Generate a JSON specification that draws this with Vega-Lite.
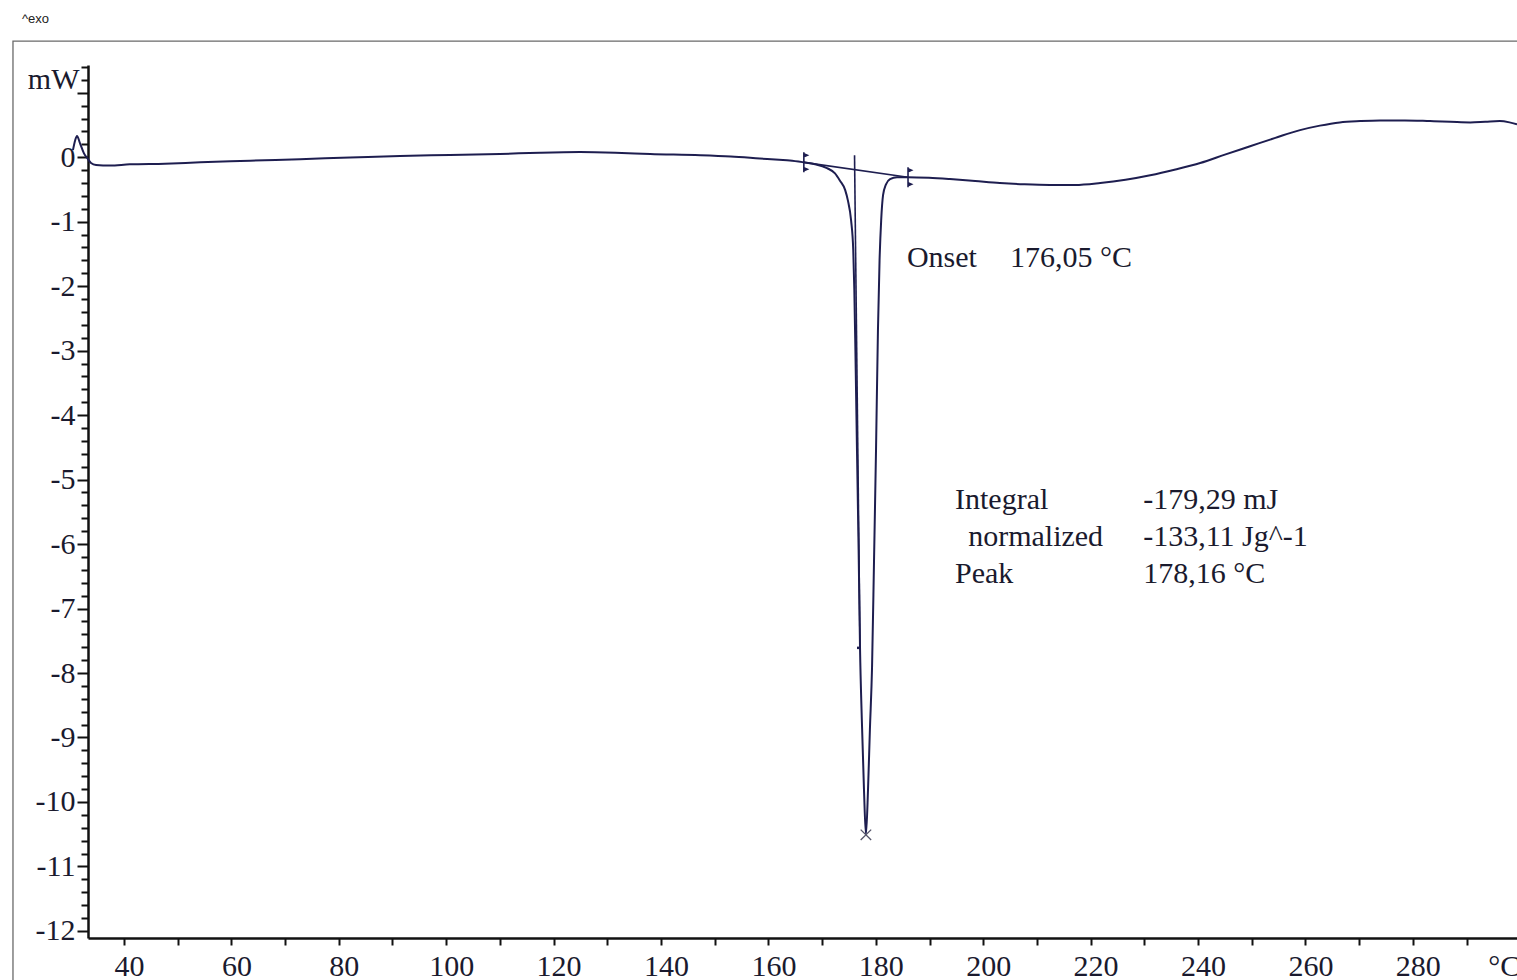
{
  "$schema": "https://vega.github.io/schema/vega-lite/v6.json",
  "width": 1429,
  "height": 873,
  "autosize": {"type": "none"},
  "padding": {"left": 88, "top": 65, "right": 0, "bottom": 42},
  "background": "white",
  "config": {"view": {"stroke": null}},
  "datasets": {
    "curve": [
      {"T": 30.5, "mW": 0.11}, {"T": 30.9, "mW": 0.26}, {"T": 31.25, "mW": 0.33}, {"T": 31.8, "mW": 0.22},
      {"T": 32.55, "mW": 0.06}, {"T": 33.3, "mW": -0.03}, {"T": 33.86, "mW": -0.09}, {"T": 34.8, "mW": -0.12},
      {"T": 37.4, "mW": -0.13}, {"T": 41.1, "mW": -0.11}, {"T": 47.6, "mW": -0.1}, {"T": 54.2, "mW": -0.08},
      {"T": 63.5, "mW": -0.055}, {"T": 72.8, "mW": -0.03}, {"T": 82.1, "mW": -0.005}, {"T": 91.4, "mW": 0.02},
      {"T": 100.7, "mW": 0.035}, {"T": 110.0, "mW": 0.05}, {"T": 117.5, "mW": 0.07}, {"T": 124.9, "mW": 0.08},
      {"T": 131.5, "mW": 0.07}, {"T": 138.0, "mW": 0.05}, {"T": 147.3, "mW": 0.03}, {"T": 153.0, "mW": 0.01},
      {"T": 158.4, "mW": -0.02}, {"T": 162.0, "mW": -0.04}, {"T": 164.0, "mW": -0.05}, {"T": 166.6, "mW": -0.08},
      {"T": 168.7, "mW": -0.11}, {"T": 170.9, "mW": -0.17}, {"T": 172.4, "mW": -0.25}, {"T": 173.3, "mW": -0.36},
      {"T": 174.3, "mW": -0.51}, {"T": 174.8, "mW": -0.67}, {"T": 175.4, "mW": -0.98}, {"T": 175.8, "mW": -1.44},
      {"T": 176.0, "mW": -2.06}, {"T": 176.2, "mW": -2.99}, {"T": 176.5, "mW": -4.57}, {"T": 176.8, "mW": -6.09},
      {"T": 177.06, "mW": -7.61}, {"T": 177.4, "mW": -8.73}, {"T": 177.8, "mW": -9.81}, {"T": 178.16, "mW": -10.51},
      {"T": 178.55, "mW": -9.81}, {"T": 178.9, "mW": -8.88}, {"T": 179.3, "mW": -7.91}, {"T": 179.67, "mW": -6.25},
      {"T": 180.04, "mW": -4.54}, {"T": 180.4, "mW": -2.68}, {"T": 180.7, "mW": -1.6}, {"T": 181.0, "mW": -0.98},
      {"T": 181.35, "mW": -0.59}, {"T": 181.9, "mW": -0.42}, {"T": 182.65, "mW": -0.34}, {"T": 183.95, "mW": -0.31},
      {"T": 186.0, "mW": -0.31}, {"T": 189.9, "mW": -0.32}, {"T": 193.8, "mW": -0.34}, {"T": 198.5, "mW": -0.37},
      {"T": 203.1, "mW": -0.4}, {"T": 207.7, "mW": -0.42}, {"T": 212.4, "mW": -0.43}, {"T": 217.1, "mW": -0.43},
      {"T": 221.8, "mW": -0.4}, {"T": 226.5, "mW": -0.35}, {"T": 231.1, "mW": -0.28}, {"T": 235.8, "mW": -0.19},
      {"T": 240.4, "mW": -0.09}, {"T": 245.0, "mW": 0.04}, {"T": 249.7, "mW": 0.17}, {"T": 254.4, "mW": 0.3},
      {"T": 259.0, "mW": 0.42}, {"T": 262.7, "mW": 0.49}, {"T": 266.4, "mW": 0.54}, {"T": 270.2, "mW": 0.56},
      {"T": 273.9, "mW": 0.57}, {"T": 278.5, "mW": 0.57}, {"T": 283.2, "mW": 0.56}, {"T": 287.0, "mW": 0.55},
      {"T": 290.7, "mW": 0.54}, {"T": 293.5, "mW": 0.55}, {"T": 296.2, "mW": 0.56}, {"T": 298.0, "mW": 0.54},
      {"T": 299.4, "mW": 0.51}
    ],
    "baseline": [{"T": 166.6, "mW": -0.08}, {"T": 186.0, "mW": -0.31}],
    "tangent": [{"T": 176.04, "mW": 0.03}, {"T": 177.06, "mW": -7.61}],
    "limits": [{"T": 166.6, "mW": -0.08}, {"T": 186.0, "mW": -0.31}],
    "peak": [{"T": 178.16, "mW": -10.51}],
    "inflection": [{"T": 177.06, "mW": -7.61}],
    "frame": [{"T": 19.33, "T2": 330, "mW": 1.8, "mW2": -14}],
    "exo": [{"T": 21.0, "mW": 2.14, "text": "^exo"}],
    "notes": [
      {"T": 185.8, "mW": -1.57, "text": "Onset"},
      {"T": 205.0, "mW": -1.57, "text": "176,05 °C"},
      {"T": 194.75, "mW": -5.32, "text": "Integral"},
      {"T": 229.8, "mW": -5.32, "text": "-179,29 mJ"},
      {"T": 197.2, "mW": -5.89, "text": "normalized"},
      {"T": 229.8, "mW": -5.89, "text": "-133,11 Jg^-1"},
      {"T": 194.75, "mW": -6.47, "text": "Peak"},
      {"T": 229.8, "mW": -6.47, "text": "178,16 °C"}
    ]
  },
  "encoding": {
    "x": {
      "field": "T", "type": "quantitative",
      "scale": {"domain": [33.3, 299.4], "nice": false, "zero": false},
      "axis": {
        "title": null, "grid": false,
        "values": [40, 50, 60, 70, 80, 90, 100, 110, 120, 130, 140, 150, 160, 170, 180, 190, 200, 210, 220, 230, 240, 250, 260, 270, 280, 290, 296],
        "labelExpr": "datum.value > 295 ? '°C' : (datum.value % 20 == 0 ? datum.label : '')",
        "labelFont": "Liberation Serif", "labelFontSize": 30, "labelColor": "#1a1a2e",
        "labelPadding": 6, "labelOffset": 5, "labelFlush": false, "labelOverlap": false, "labelBound": false,
        "tickSize": 7, "tickWidth": 2, "tickColor": "#111111",
        "tickOpacity": {"condition": {"test": "datum.value > 295", "value": 0}, "value": 1},
        "domainColor": "#111111", "domainWidth": 2.5
      }
    },
    "y": {
      "field": "mW", "type": "quantitative",
      "scale": {"domain": [-12.11, 1.43], "nice": false, "zero": false},
      "axis": {
        "title": null, "grid": false,
        "values": [-12, -11.8, -11.6, -11.4, -11.2, -11, -10.8, -10.6, -10.4, -10.2, -10, -9.8, -9.6, -9.4, -9.2, -9, -8.8, -8.6, -8.4, -8.2, -8, -7.8, -7.6, -7.4, -7.2, -7, -6.8, -6.6, -6.4, -6.2, -6, -5.8, -5.6, -5.4, -5.2, -5, -4.8, -4.6, -4.4, -4.2, -4, -3.8, -3.6, -3.4, -3.2, -3, -2.8, -2.6, -2.4, -2.2, -2, -1.8, -1.6, -1.4, -1.2, -1, -0.8, -0.6, -0.4, -0.2, 0, 0.2, 0.4, 0.6, 0.8, 1, 1.2, 1.4],
        "labelExpr": "abs(datum.value - 1.2) < 0.01 ? 'mW' : ((datum.value < 0.5 && abs(datum.value - round(datum.value)) < 0.01) ? ('' + round(datum.value)) : '')",
        "labelFont": "Liberation Serif", "labelFontSize": 30, "labelColor": "#1a1a2e",
        "labelPadding": 2, "labelFlush": false, "labelOverlap": false, "labelBound": false,
        "tickSize": {"condition": {"test": "abs(datum.value - round(datum.value)) < 0.01", "value": 11}, "value": 7},
        "tickWidth": 2, "tickColor": "#111111",
        "domainColor": "#111111", "domainWidth": 2.5
      }
    }
  },
  "layer": [
    {
      "data": {"name": "frame"},
      "mark": {"type": "rect", "filled": false, "stroke": "#6a6a6a", "strokeWidth": 1.3, "clip": false},
      "encoding": {"x2": {"field": "T2"}, "y2": {"field": "mW2"}}
    },
    {
      "data": {"name": "curve"},
      "mark": {"type": "line", "color": "#1e1e50", "strokeWidth": 2, "interpolate": "monotone", "clip": false}
    },
    {
      "data": {"name": "baseline"},
      "mark": {"type": "line", "color": "#1e1e50", "strokeWidth": 1.6}
    },
    {
      "data": {"name": "tangent"},
      "mark": {"type": "line", "color": "#1e1e50", "strokeWidth": 1.6}
    },
    {
      "data": {"name": "limits"},
      "mark": {"type": "point", "shape": "M0,-1L0,1M0,-0.85L0.35,-0.7L0,-0.55ZM0,0.55L0.35,0.7L0,0.85Z", "size": 400, "filled": true, "color": "#1e1e50", "stroke": "#1e1e50", "strokeWidth": 1.6, "opacity": 1}
    },
    {
      "data": {"name": "peak"},
      "mark": {"type": "point", "shape": "M-1,-1L1,1M-1,1L1,-1", "size": 110, "filled": false, "stroke": "#55556a", "strokeWidth": 1.3, "opacity": 1}
    },
    {
      "data": {"name": "inflection"},
      "mark": {"type": "point", "shape": "M-1,0L0,0", "size": 36, "filled": false, "stroke": "#1e1e50", "strokeWidth": 2.5, "opacity": 1}
    },
    {
      "data": {"name": "notes"},
      "mark": {"type": "text", "align": "left", "baseline": "middle", "font": "Liberation Serif", "fontSize": 30, "color": "#1a1a2e"},
      "encoding": {"text": {"field": "text"}}
    },
    {
      "data": {"name": "exo"},
      "mark": {"type": "text", "align": "left", "baseline": "middle", "font": "Liberation Sans", "fontSize": 13, "color": "#222222", "clip": false},
      "encoding": {"text": {"field": "text"}}
    }
  ]
}
